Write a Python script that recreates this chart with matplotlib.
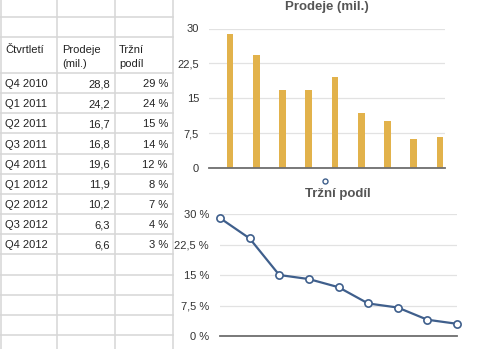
import matplotlib
matplotlib.use("Agg")
import matplotlib.pyplot as plt
from matplotlib.ticker import FuncFormatter

plt.rcParams['font.family'] = ['Liberation Sans', 'DejaVu Sans']

# table data
quarters = ["Q4 2010", "Q1 2011", "Q2 2011", "Q3 2011", "Q4 2011",
            "Q1 2012", "Q2 2012", "Q3 2012", "Q4 2012"]
sales = [28.8, 24.2, 16.7, 16.8, 19.6, 11.9, 10.2, 6.3, 6.6]
share = [29, 24, 15, 14, 12, 8, 7, 4, 3]
y_ticks = [0, 7.5, 15, 22.5, 30]

W, H = 500, 349
BAR_COLOR = "#E2B24B"
LINE_COLOR = "#3F5F8C"
GRID = "#E2E2E2"
TEXT = "#222222"
TITLE = "#555555"


def px_box(x0, y0, x1, y1):
    # pixel box (top-left origin) -> figure fraction rect
    return [x0 / W, (H - y1) / H, (x1 - x0) / W, (y1 - y0) / H]


def comma(v):
    s = ("%g" % v).replace(".", ",")
    return s


fig = plt.figure(figsize=(5, 3.49), dpi=100)
fig.patch.set_facecolor("white")

# spreadsheet grid drawn in pixel coordinates
grid = fig.add_axes([0, 0, 1, 1])
grid.set_xlim(0, W)
grid.set_ylim(H, 0)
grid.axis("off")

row_lines = [17, 37, 73] + [73 + 20.15 * k for k in range(1, 14)]
col_lines = [0.5, 57, 115, 173]
for y in row_lines:
    grid.plot([0, 173], [y, y], color="#D6D6D6", lw=1.1)
for x in col_lines:
    grid.plot([x, x], [0, H], color="#D6D6D6", lw=1.1)

fs = 8.0
grid.text(5, 50, "Čtvrtletí", fontsize=fs, color=TEXT, va="center")
grid.text(62, 50, "Prodeje", fontsize=fs, color=TEXT, va="center")
grid.text(62, 64, "(mil.)", fontsize=fs, color=TEXT, va="center")
grid.text(119, 50, "Tržní", fontsize=fs, color=TEXT, va="center")
grid.text(119, 64, "podíl", fontsize=fs, color=TEXT, va="center")

for i, q in enumerate(quarters):
    yc = 73 + 20.15 * (i + 0.5) + 1
    grid.text(5, yc, q, fontsize=fs, color=TEXT, va="center")
    grid.text(110, yc, comma(sales[i]), fontsize=fs, color=TEXT, va="center", ha="right")
    grid.text(168, yc, "%d %%" % share[i], fontsize=fs, color=TEXT, va="center", ha="right")

# bar chart: Prodeje
ax1 = fig.add_axes(px_box(209, 28.5, 445, 168))
x = list(range(len(quarters)))
ax1.bar(x, sales, width=0.26, color=BAR_COLOR, zorder=3)
ax1.set_xlim(-0.8, 8.19)
ax1.set_ylim(0, 30)
ax1.set_yticks(y_ticks)
ax1.yaxis.set_major_formatter(FuncFormatter(lambda v, p: comma(v)))
ax1.set_xticks([])
ax1.grid(axis="y", color=GRID, lw=0.9, zorder=0)
for s in ["top", "left", "right"]:
    ax1.spines[s].set_visible(False)
ax1.spines["bottom"].set_color("#6E6E6E")
ax1.spines["bottom"].set_linewidth(1.3)
ax1.spines["bottom"].set_zorder(4)
ax1.tick_params(axis="y", length=0, pad=7.2, labelsize=8, labelcolor="#333333")
fig.text(327 / W, 1 - 7 / H, "Prodeje (mil.)", fontsize=9.5, fontweight="bold",
         color=TITLE, ha="center", va="center")

# line chart: Tržní podíl
ax2 = fig.add_axes(px_box(220, 214, 457, 336))
ax2.plot(x, share, color=LINE_COLOR, lw=1.6, marker="o", markersize=5.2,
         markerfacecolor="white", markeredgecolor=LINE_COLOR, markeredgewidth=1.2,
         clip_on=False, zorder=3)
ax2.set_xlim(0, 8)
ax2.set_ylim(0, 30)
ax2.set_yticks(y_ticks)
ax2.yaxis.set_major_formatter(FuncFormatter(lambda v, p: comma(v) + " %"))
ax2.set_xticks([])
ax2.grid(axis="y", color=GRID, lw=0.9, zorder=0)
for s in ["top", "left", "right"]:
    ax2.spines[s].set_visible(False)
ax2.spines["bottom"].set_color("#6E6E6E")
ax2.spines["bottom"].set_linewidth(1.3)
ax2.tick_params(axis="y", length=0, pad=7.9, labelsize=8, labelcolor="#333333")
fig.text(338 / W, 1 - 194 / H, "Tržní podíl", fontsize=9.5, fontweight="bold",
         color=TITLE, ha="center", va="center")
# legend marker above the title
grid.plot([325], [181], marker="o", markersize=3.6, markerfacecolor="white",
          markeredgecolor=LINE_COLOR, markeredgewidth=1.0)

fig.savefig("out.png", dpi=100, facecolor="white")
